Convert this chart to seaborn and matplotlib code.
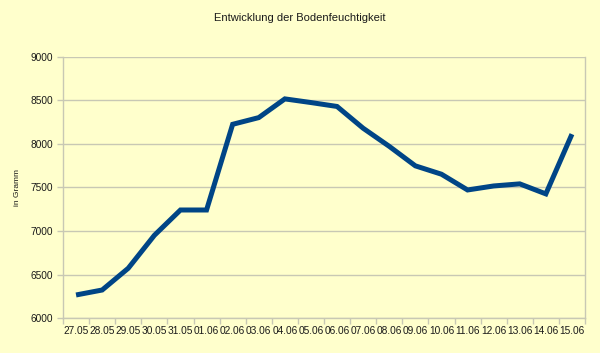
import matplotlib
matplotlib.use("Agg")
import matplotlib.pyplot as plt
import seaborn as sns
import pandas as pd
import numpy as np
from matplotlib.ticker import FixedLocator

dates = ["27.05", "28.05", "29.05", "30.05", "31.05", "01.06", "02.06", "03.06",
         "04.06", "05.06", "06.06", "07.06", "08.06", "09.06", "10.06", "11.06",
         "12.06", "13.06", "14.06", "15.06"]
values = [6265, 6322, 6572, 6950, 7241, 7241, 8225, 8302, 8517, 8475, 8430, 8180,
          7972, 7748, 7652, 7471, 7517, 7541, 7426, 8112]
yticks = [6000, 6500, 7000, 7500, 8000, 8500, 9000]

bg = "#ffffcc"
grid = "#c8c8b4"

sns.set_theme(style="white")
plt.rcParams["font.family"] = ["Liberation Sans", "DejaVu Sans"]

df = pd.DataFrame({"Datum": dates, "Wert": values})

fig = plt.figure(figsize=(6, 3.53), dpi=100, facecolor=bg)
ax = fig.add_axes([0.105, 0.099, 0.87, 0.74])
ax.set_facecolor(bg)

sns.lineplot(data=df, x="Datum", y="Wert", ax=ax, color="#004586", linewidth=3.6,
             sort=False, solid_joinstyle="miter", solid_capstyle="butt")

ax.set_xlim(-0.5, len(dates) - 0.5)
ax.set_ylim(6000, 9000)
ax.set_yticks(yticks)
ax.set_yticklabels([str(v) for v in yticks])
ax.yaxis.grid(True, color=grid, linewidth=1)
ax.set_axisbelow(True)

ax.set_xticks(range(len(dates)))
ax.set_xticklabels(dates)
ax.xaxis.set_minor_locator(FixedLocator(np.arange(-0.5, len(dates), 1.0)))
ax.tick_params(axis="x", which="major", length=0, pad=6, labelsize=7.3, colors="#1a1a1a")
ax.tick_params(axis="x", which="minor", length=4, width=1, color=grid, direction="out", bottom=True)
ax.tick_params(axis="y", which="major", length=4, width=1, color=grid, direction="out",
               left=True, labelsize=7.3, labelcolor="#1a1a1a", pad=3)

for side in ["left", "bottom", "right"]:
    ax.spines[side].set_visible(True)
    ax.spines[side].set_color(grid)
    ax.spines[side].set_linewidth(1)
ax.spines["top"].set_visible(False)

ax.set_xlabel("")
ax.set_ylabel("in Gramm", fontsize=6, color="#1a1a1a", labelpad=7)
fig.text(0.5, 0.948, "Entwicklung der Bodenfeuchtigkeit", ha="center", va="center",
         fontsize=8, color="#1a1a1a")

fig.savefig("out.png", dpi=100, facecolor=bg)
